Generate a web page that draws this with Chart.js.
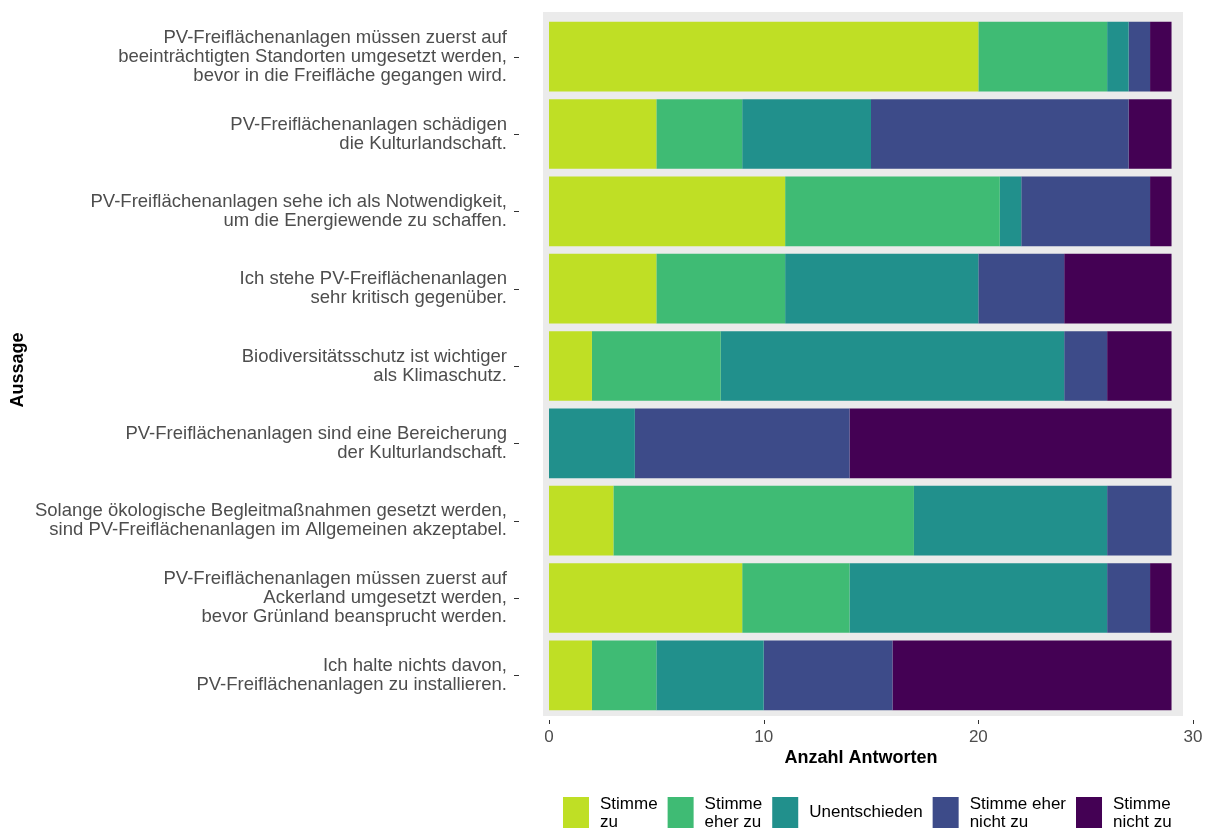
<!DOCTYPE html>
<html lang="de">
<head>
<meta charset="utf-8">
<title>Aussagen zu PV-Freiflächenanlagen</title>
<script src="https://cdn.jsdelivr.net/npm/chart.js@4.4.1/dist/chart.umd.min.js"></script>
<style>
  html, body { margin: 0; padding: 0; background: #ffffff; }
  #wrap { position: relative; width: 1208px; height: 834px; }
</style>
</head>
<body>
<div id="wrap"><canvas id="chartAussagen"></canvas></div>
<script>
// Aussagen (von oben nach unten), mehrzeilig wie im Original
const aussagen = [
    ['PV-Freiflächenanlagen müssen zuerst auf', 'beeinträchtigten Standorten umgesetzt werden,', 'bevor in die Freifläche gegangen wird.'],
    ['PV-Freiflächenanlagen schädigen', 'die Kulturlandschaft.'],
    ['PV-Freiflächenanlagen sehe ich als Notwendigkeit,', 'um die Energiewende zu schaffen.'],
    ['Ich stehe PV-Freiflächenanlagen', 'sehr kritisch gegenüber.'],
    ['Biodiversitätsschutz ist wichtiger', 'als Klimaschutz.'],
    ['PV-Freiflächenanlagen sind eine Bereicherung', 'der Kulturlandschaft.'],
    ['Solange ökologische Begleitmaßnahmen gesetzt werden,', 'sind PV-Freiflächenanlagen im Allgemeinen akzeptabel.'],
    ['PV-Freiflächenanlagen müssen zuerst auf', 'Ackerland umgesetzt werden,', 'bevor Grünland beansprucht werden.'],
    ['Ich halte nichts davon,', 'PV-Freiflächenanlagen zu installieren.']
];

// Anzahl Antworten je Kategorie
const stimmeZu          = [20, 5, 11, 5, 2, 0, 3, 9, 2];
const stimmeEherZu      = [6, 4, 10, 6, 6, 0, 14, 5, 3];
const unentschieden     = [1, 6, 1, 9, 16, 4, 9, 12, 5];
const stimmeEherNichtZu = [1, 12, 6, 4, 2, 10, 3, 2, 6];
const stimmeNichtZu     = [1, 2, 1, 5, 3, 15, 0, 1, 13];

const antwortLabels = [['Stimme', 'zu'], ['Stimme', 'eher zu'], ['Unentschieden'], ['Stimme eher', 'nicht zu'], ['Stimme', 'nicht zu']];
const farben = ['#bfdf25', '#3fbb74', '#21908c', '#3d4b89', '#440154'];
const xTicks = [0, 10, 20, 30];

const FONT = '"Liberation Sans", Arial, Helvetica, sans-serif';
const TEXT = '#4d4d4d';

const werte = [stimmeZu, stimmeEherZu, unentschieden, stimmeEherNichtZu, stimmeNichtZu];

// Hintergrund, Achsentitel, Tickstriche und Legende im ggplot-Stil
const ggPlugin = {
    id: 'ggPlugin',
    beforeDatasetsDraw(chart) {
        const ctx = chart.ctx;
        const a = chart.chartArea;
        ctx.save();
        ctx.fillStyle = '#ebebeb';
        ctx.fillRect(a.left - 6, a.top - 6, (a.right - 10) - (a.left - 6), (a.bottom + 2) - (a.top - 6));
        ctx.restore();
    },
    afterDraw(chart) {
        const ctx = chart.ctx;
        const a = chart.chartArea;
        const xs = chart.scales.x;
        const ys = chart.scales.y;
        ctx.save();

        // Tickstriche
        ctx.strokeStyle = '#333333';
        ctx.lineWidth = 1;
        ys.ticks.forEach((t, i) => {
            const y = Math.round(ys.getPixelForTick(i)) + 0.5;
            ctx.beginPath();
            ctx.moveTo(a.left - 35, y);
            ctx.lineTo(a.left - 30, y);
            ctx.stroke();
        });
        xTicks.forEach(v => {
            const x = Math.round(xs.getPixelForValue(v)) + 0.5;
            ctx.beginPath();
            ctx.moveTo(x, a.bottom + 6);
            ctx.lineTo(x, a.bottom + 10);
            ctx.stroke();
        });

        // Achsentitel
        ctx.fillStyle = '#000000';
        ctx.font = 'bold 18px ' + FONT;
        ctx.textAlign = 'center';
        ctx.textBaseline = 'middle';
        ctx.fillText('Anzahl Antworten', 861, a.bottom + 44);
        ctx.save();
        ctx.translate(18, (a.top + a.bottom) / 2 + 4);
        ctx.rotate(-Math.PI / 2);
        ctx.fillText('Aussage', 0, 0);
        ctx.restore();

        // Legende
        ctx.font = '17px ' + FONT;
        ctx.textAlign = 'left';
        const keyW = 26, keyH = 31, keyTop = 797;
        let x = 563;
        antwortLabels.forEach((lines, i) => {
            ctx.fillStyle = farben[i];
            ctx.fillRect(x, keyTop, keyW, keyH);
            ctx.fillStyle = '#000000';
            const tx = x + keyW + 11;
            let w = 0;
            if (lines.length === 1) {
                ctx.fillText(lines[0], tx, keyTop + keyH / 2);
                w = ctx.measureText(lines[0]).width;
            } else {
                lines.forEach((l, j) => {
                    ctx.fillText(l, tx, keyTop + 7 + j * 18);
                    w = Math.max(w, ctx.measureText(l).width);
                });
            }
            x = tx + w + 10;
        });
        ctx.restore();
    }
};

const datasets = antwortLabels.map((lab, i) => ({
    label: lab.join(' '),
    data: werte[i],
    backgroundColor: farben[i],
    borderWidth: 0,
    barPercentage: 0.9,
    categoryPercentage: 1.0
}));

new Chart(document.getElementById('chartAussagen').getContext('2d'), {
    type: 'bar',
    data: { labels: aussagen, datasets: datasets },
    plugins: [ggPlugin],
    options: {
        indexAxis: 'y',
        responsive: true,
        maintainAspectRatio: false,
        animation: false,
        layout: { padding: { top: 18, right: 15, bottom: 0, left: 0 } },
        plugins: {
            legend: { display: false },
            tooltip: { enabled: false }
        },
        scales: {
            x: {
                stacked: true,
                min: 0,
                max: 30,
                afterBuildTicks: scale => { scale.ticks = xTicks.map(v => ({ value: v })); },
                grid: { display: false, drawTicks: false },
                border: { display: false },
                ticks: { color: TEXT, font: { family: FONT, size: 17 }, padding: 13, maxRotation: 0 },
                afterFit: scale => {
                    scale.height = 120;
                    scale.paddingLeft = 0;
                    scale.paddingRight = 0;
                }
            },
            y: {
                stacked: true,
                grid: { display: false, drawTicks: false },
                border: { display: false },
                ticks: { color: TEXT, font: { family: FONT, size: 18.5, lineHeight: 1.03 }, padding: 42, autoSkip: false },
                afterFit: scale => {
                    scale.width = 549;
                    scale.paddingTop = 0;
                    scale.paddingBottom = 0;
                }
            }
        }
    }
});
</script>
</body>
</html>
